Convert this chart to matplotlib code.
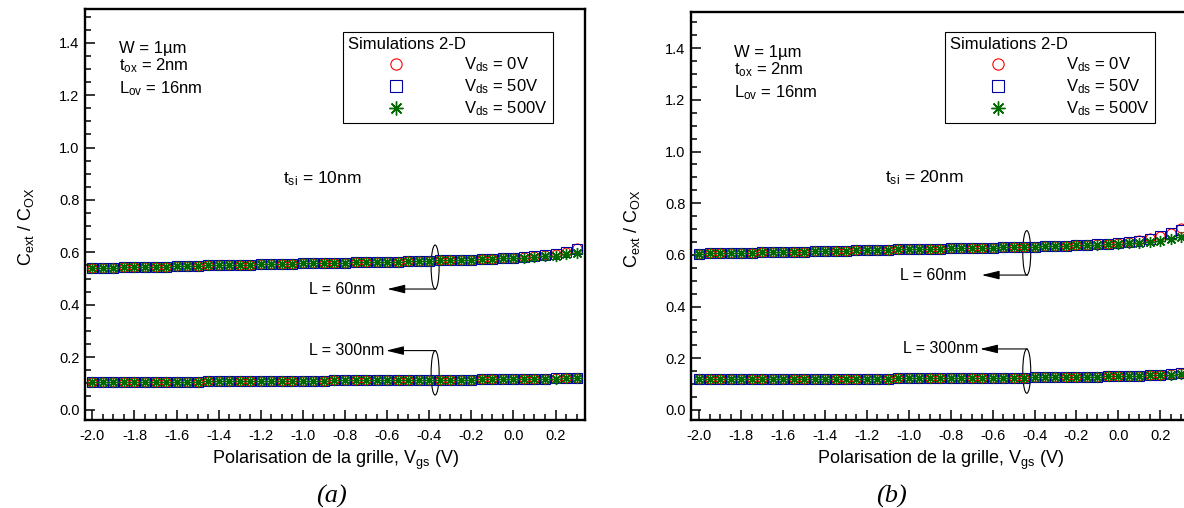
import numpy as np
import matplotlib
matplotlib.use('Agg')
import matplotlib.pyplot as plt
from matplotlib.patches import Ellipse
from matplotlib.ticker import MultipleLocator, FormatStrFormatter

plt.rcParams['font.family'] = ['Liberation Sans', 'DejaVu Sans']
plt.rcParams['mathtext.fontset'] = 'custom'
plt.rcParams['mathtext.rm'] = 'Liberation Sans'
plt.rcParams['mathtext.it'] = 'Liberation Sans:italic'
plt.rcParams['mathtext.default'] = 'regular'
plt.rcParams['axes.unicode_minus'] = False

# gate bias sweep, V
VGS = [-2.00, -1.95, -1.90, -1.85, -1.80, -1.75, -1.70, -1.65, -1.60, -1.55,
       -1.50, -1.45, -1.40, -1.35, -1.30, -1.25, -1.20, -1.15, -1.10, -1.05,
       -1.00, -0.95, -0.90, -0.85, -0.80, -0.75, -0.70, -0.65, -0.60, -0.55,
       -0.50, -0.45, -0.40, -0.35, -0.30, -0.25, -0.20, -0.15, -0.10, -0.05,
       0.00, 0.05, 0.10, 0.15, 0.20, 0.25, 0.30]

# (a) tsi = 10nm, L = 60nm
A_L60_V0 = [0.540, 0.541, 0.542, 0.543, 0.543, 0.544, 0.545, 0.546, 0.547, 0.548,
            0.549, 0.550, 0.551, 0.551, 0.552, 0.553, 0.554, 0.555, 0.556, 0.557,
            0.558, 0.558, 0.559, 0.560, 0.561, 0.562, 0.563, 0.564, 0.565, 0.565,
            0.566, 0.567, 0.568, 0.569, 0.570, 0.571, 0.572, 0.574, 0.575, 0.577,
            0.579, 0.582, 0.585, 0.589, 0.595, 0.603, 0.618]
A_L60_V50 = [0.540, 0.541, 0.542, 0.543, 0.543, 0.544, 0.545, 0.546, 0.547, 0.548,
             0.549, 0.550, 0.551, 0.551, 0.552, 0.553, 0.554, 0.555, 0.556, 0.557,
             0.558, 0.558, 0.559, 0.560, 0.561, 0.562, 0.563, 0.564, 0.565, 0.565,
             0.566, 0.567, 0.568, 0.569, 0.570, 0.571, 0.572, 0.574, 0.575, 0.577,
             0.579, 0.582, 0.585, 0.589, 0.594, 0.602, 0.611]
A_L60_V500 = [0.540, 0.541, 0.542, 0.543, 0.543, 0.544, 0.545, 0.546, 0.547, 0.548,
              0.549, 0.550, 0.551, 0.551, 0.552, 0.553, 0.554, 0.555, 0.556, 0.557,
              0.558, 0.558, 0.559, 0.560, 0.561, 0.562, 0.563, 0.564, 0.565, 0.565,
              0.566, 0.567, 0.568, 0.569, 0.570, 0.571, 0.572, 0.574, 0.575, 0.577,
              0.578, 0.580, 0.582, 0.585, 0.588, 0.592, 0.597]
# (a) tsi = 10nm, L = 300nm
A_L300_V0 = [0.105, 0.105, 0.105, 0.106, 0.106, 0.106, 0.106, 0.107, 0.107, 0.107,
             0.107, 0.108, 0.108, 0.108, 0.108, 0.109, 0.109, 0.109, 0.109, 0.110,
             0.110, 0.110, 0.110, 0.111, 0.111, 0.111, 0.111, 0.112, 0.112, 0.112,
             0.112, 0.113, 0.113, 0.113, 0.114, 0.114, 0.114, 0.115, 0.115, 0.116,
             0.116, 0.117, 0.117, 0.118, 0.119, 0.120, 0.122]
A_L300_V50 = [0.105, 0.105, 0.105, 0.106, 0.106, 0.106, 0.106, 0.107, 0.107, 0.107,
              0.107, 0.108, 0.108, 0.108, 0.108, 0.109, 0.109, 0.109, 0.109, 0.110,
              0.110, 0.110, 0.110, 0.111, 0.111, 0.111, 0.111, 0.112, 0.112, 0.112,
              0.112, 0.113, 0.113, 0.113, 0.114, 0.114, 0.114, 0.115, 0.115, 0.116,
              0.116, 0.117, 0.117, 0.118, 0.119, 0.120, 0.121]
A_L300_V500 = [0.105, 0.105, 0.105, 0.106, 0.106, 0.106, 0.106, 0.107, 0.107, 0.107,
               0.107, 0.108, 0.108, 0.108, 0.108, 0.109, 0.109, 0.109, 0.109, 0.110,
               0.110, 0.110, 0.110, 0.111, 0.111, 0.111, 0.111, 0.112, 0.112, 0.112,
               0.112, 0.113, 0.113, 0.113, 0.114, 0.114, 0.114, 0.115, 0.115, 0.116,
               0.116, 0.117, 0.117, 0.117, 0.118, 0.119, 0.120]

# (b) tsi = 20nm, L = 60nm
B_L60_V0 = [0.605, 0.606, 0.607, 0.608, 0.608, 0.609, 0.610, 0.611, 0.612, 0.613,
            0.613, 0.614, 0.615, 0.616, 0.617, 0.618, 0.618, 0.619, 0.620, 0.621,
            0.622, 0.623, 0.623, 0.624, 0.625, 0.626, 0.627, 0.628, 0.628, 0.629,
            0.630, 0.631, 0.632, 0.633, 0.634, 0.635, 0.637, 0.639, 0.641, 0.644,
            0.647, 0.651, 0.656, 0.664, 0.674, 0.686, 0.705]
B_L60_V50 = [0.605, 0.606, 0.607, 0.608, 0.608, 0.609, 0.610, 0.611, 0.612, 0.613,
             0.613, 0.614, 0.615, 0.616, 0.617, 0.618, 0.618, 0.619, 0.620, 0.621,
             0.622, 0.623, 0.623, 0.624, 0.625, 0.626, 0.627, 0.628, 0.628, 0.629,
             0.630, 0.631, 0.632, 0.633, 0.634, 0.635, 0.637, 0.639, 0.641, 0.644,
             0.647, 0.651, 0.655, 0.662, 0.672, 0.684, 0.698]
B_L60_V500 = [0.605, 0.606, 0.607, 0.608, 0.608, 0.609, 0.610, 0.611, 0.612, 0.613,
              0.613, 0.614, 0.615, 0.616, 0.617, 0.618, 0.618, 0.619, 0.620, 0.621,
              0.622, 0.623, 0.623, 0.624, 0.625, 0.626, 0.627, 0.628, 0.628, 0.629,
              0.630, 0.631, 0.632, 0.633, 0.634, 0.635, 0.637, 0.638, 0.640, 0.642,
              0.644, 0.646, 0.648, 0.651, 0.655, 0.660, 0.669]
# (b) tsi = 20nm, L = 300nm
B_L300_V0 = [0.118, 0.118, 0.118, 0.118, 0.119, 0.119, 0.119, 0.119, 0.119, 0.120,
             0.120, 0.120, 0.120, 0.120, 0.121, 0.121, 0.121, 0.121, 0.121, 0.122,
             0.122, 0.122, 0.122, 0.123, 0.123, 0.123, 0.124, 0.124, 0.124, 0.125,
             0.125, 0.125, 0.126, 0.126, 0.127, 0.127, 0.128, 0.129, 0.129, 0.130,
             0.131, 0.132, 0.133, 0.134, 0.136, 0.139, 0.143]
B_L300_V50 = [0.118, 0.118, 0.118, 0.118, 0.119, 0.119, 0.119, 0.119, 0.119, 0.120,
              0.120, 0.120, 0.120, 0.120, 0.121, 0.121, 0.121, 0.121, 0.121, 0.122,
              0.122, 0.122, 0.122, 0.123, 0.123, 0.123, 0.124, 0.124, 0.124, 0.125,
              0.125, 0.125, 0.126, 0.126, 0.127, 0.127, 0.128, 0.129, 0.129, 0.130,
              0.131, 0.132, 0.133, 0.134, 0.136, 0.138, 0.142]
B_L300_V500 = [0.118, 0.118, 0.118, 0.118, 0.119, 0.119, 0.119, 0.119, 0.119, 0.120,
               0.120, 0.120, 0.120, 0.120, 0.121, 0.121, 0.121, 0.121, 0.121, 0.122,
               0.122, 0.122, 0.122, 0.123, 0.123, 0.123, 0.124, 0.124, 0.124, 0.125,
               0.125, 0.125, 0.126, 0.126, 0.127, 0.127, 0.128, 0.129, 0.129, 0.130,
               0.131, 0.132, 0.133, 0.134, 0.135, 0.137, 0.139]

VDS_LABELS = ['V$_{ds}$ = 0V', 'V$_{ds}$ = 50V', 'V$_{ds}$ = 500V']
PARAM_LINES = ['W = 1µm', 't$_{ox}$ = 2nm', 'L$_{ov}$ = 16nm']

STYLES = [
    dict(marker='o', color='#ff0000', size=6.5, mew=0.8),
    dict(marker='s', color='#0000a0', size=6.5, mew=0.8),
    dict(marker=(8, 2, 0), color='#006a00', size=8.0, mew=1.0),
]

# panel layout (figure fractions) and annotation positions
PANELS = [
    dict(rect=[0.0718, 0.1732, 0.4223, 0.8091], xlim=(-2.035, 0.340), ylim=(-0.040, 1.529),
         tsi='t$_{si}$ = 10nm', tsi_pos=(0.396, 0.576),
         params_xy=(0.068, [0.894, 0.852, 0.796]), leg_anchor=(0.936, 0.944),
         series=[(A_L60_V0, A_L60_V50, A_L60_V500), (A_L300_V0, A_L300_V50, A_L300_V500)],
         ell_x=-0.372, ell_w=0.038,
         ell60=(0.544, 0.168), arr60=(0.460, -0.599, -0.657),
         ell300=(0.140, 0.169), arr300=(0.225, -0.605, -0.612),
         caption='(a)', cap_x=331),
    dict(rect=[0.5836, 0.1732, 0.4223, 0.8031], xlim=(-2.040, 0.347), ylim=(-0.039, 1.540),
         tsi='t$_{si}$ = 20nm', tsi_pos=(0.388, 0.582),
         params_xy=(0.086, [0.890, 0.848, 0.792]), leg_anchor=(0.928, 0.951),
         series=[(B_L60_V0, B_L60_V50, B_L60_V500), (B_L300_V0, B_L300_V50, B_L300_V500)],
         ell_x=-0.437, ell_w=0.038,
         ell60=(0.608, 0.172), arr60=(0.522, -0.652, -0.724),
         ell300=(0.150, 0.171), arr300=(0.236, -0.660, -0.669),
         caption='(b)', cap_x=891),
]


def draw_panel(fig, p):
    ax = fig.add_axes(p['rect'])
    x = np.array(VGS)
    for group in p['series']:
        for vals, st, lab in zip(group, STYLES, VDS_LABELS):
            ax.plot(x, vals, linestyle='none', marker=st['marker'], markersize=st['size'],
                    markerfacecolor='none', markeredgecolor=st['color'],
                    markeredgewidth=st['mew'], label=lab)

    ax.set_xlim(*p['xlim'])
    ax.set_ylim(*p['ylim'])
    ax.xaxis.set_major_locator(MultipleLocator(0.2))
    ax.xaxis.set_minor_locator(MultipleLocator(0.05))
    ax.yaxis.set_major_locator(MultipleLocator(0.2))
    ax.yaxis.set_minor_locator(MultipleLocator(0.05))
    ax.xaxis.set_major_formatter(FormatStrFormatter('%.1f'))
    ax.yaxis.set_major_formatter(FormatStrFormatter('%.1f'))
    ax.tick_params(which='both', direction='in', top=False, right=False, width=1.1,
                   labelsize=10.5)
    ax.tick_params(which='major', length=7.5)
    ax.tick_params(which='minor', length=4)
    ax.tick_params(axis='x', which='major', pad=6.5)
    ax.tick_params(axis='y', which='major', pad=4)
    for sp in ax.spines.values():
        sp.set_linewidth(1.7)

    ax.set_xlabel('Polarisation de la grille, V$_{gs}$ (V)', fontsize=13)
    ax.xaxis.set_label_coords(0.5, -0.07)
    ax.set_ylabel('C$_{ext}$ / C$_{OX}$', fontsize=13)
    ax.yaxis.set_label_coords(-0.098, 0.47)

    px, pys = p['params_xy']
    for line, py in zip(PARAM_LINES, pys):
        ax.text(px, py, line, transform=ax.transAxes, fontsize=12, va='baseline')
    ax.text(p['tsi_pos'][0], p['tsi_pos'][1], p['tsi'], transform=ax.transAxes,
            fontsize=12.5, va='baseline')

    # ellipses + arrows labelling the two channel lengths
    for (cy, h), (ay, tip, txt_x), lab in [
            (p['ell60'], p['arr60'], 'L = 60nm'),
            (p['ell300'], p['arr300'], 'L = 300nm')]:
        ax.add_patch(Ellipse((p['ell_x'], cy), p['ell_w'], h, fill=False,
                             edgecolor='black', linewidth=0.8))
        ax.annotate('', xy=(tip, ay), xytext=(p['ell_x'] + 0.003, ay),
                    arrowprops=dict(arrowstyle='-|>,head_length=0.9,head_width=0.22',
                                    color='black', lw=0.8, shrinkA=0, shrinkB=0,
                                    mutation_scale=12))
        ax.text(txt_x, ay, lab, fontsize=11.5, ha='right', va='center')

    handles, labels = ax.get_legend_handles_labels()
    leg = ax.legend(handles[:3], labels[:3], title='Simulations 2-D', loc='upper right',
                    bbox_to_anchor=p['leg_anchor'], borderaxespad=0, fontsize=12,
                    title_fontsize=12, alignment='left', fancybox=False,
                    edgecolor='black', framealpha=1, handlelength=5.75,
                    handletextpad=1.2, labelspacing=0.2, borderpad=0.3,
                    markerscale=1.25)
    leg.get_frame().set_linewidth(0.8)

    fig.text(p['cap_x'] / 1184, 1 - 496 / 508, p['caption'], ha='center', va='center',
             fontsize=19, fontstyle='italic', family='Liberation Serif')
    return ax


fig = plt.figure(figsize=(11.84, 5.08), dpi=100)
for panel in PANELS:
    draw_panel(fig, panel)
fig.savefig('out.png', dpi=100)
